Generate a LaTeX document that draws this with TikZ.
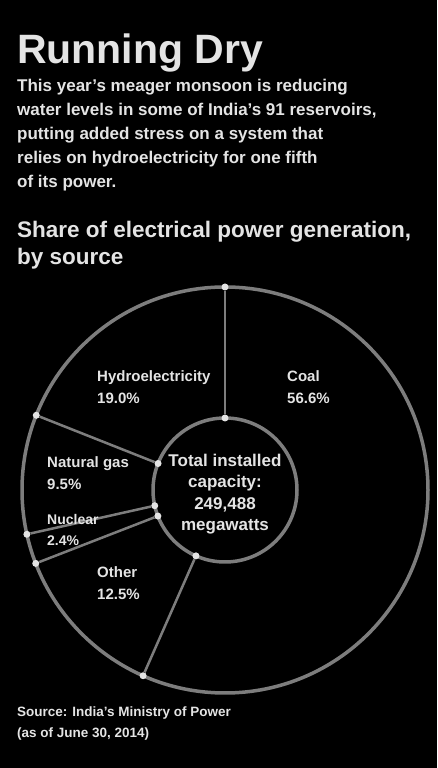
\documentclass[tikz,border=0pt]{standalone}
\usepackage{fontspec}
\setmainfont{Liberation Sans}
\usetikzlibrary{calc}

\definecolor{ringgray}{RGB}{125,125,125}
\definecolor{txtgray}{RGB}{228,228,228}

\tikzstyle{dot} = [circle, fill=txtgray, inner sep=0pt, minimum size=7pt]
\tikzstyle{line} = [draw, ringgray, line width=2.5pt]
\tikzstyle{ring} = [draw, ringgray, line width=3.5pt]
\tikzstyle{txt} = [anchor=north west, align=left, text=txtgray, inner sep=0pt, font=\fontsize{15}{22}\selectfont\bfseries]

\begin{document}
\begin{tikzpicture}[x=1pt,y=1pt]

	\fill[black] (0,0) rectangle (437,768);
	\useasboundingbox (0,0) rectangle (437,768);

	% Heading
	\node[txt, font=\bfseries\fontsize{41}{44}\selectfont] (title) at (17,734) {Running Dry};
	\node[txt, font=\bfseries\fontsize{17}{24}\selectfont] (intro) at (17,689) {This year's meager monsoon is reducing\\water levels in some of India's 91 reservoirs,\\putting added stress on a system that\\relies on hydroelectricity for one fifth\\of its power.};
	\node[txt, font=\bfseries\fontsize{22.5}{27.5}\selectfont] (subtitle) at (17,547) {Share of electrical power generation,\\by source};

	% Pie
	\coordinate (c) at (225,278);
	\draw[ring] (c) circle (203);
	\draw[ring] (c) circle (72);
	\foreach \a [count=\i] in {90,158.4,192.6,201.2,246.2} {
		\node[dot] (o\i) at ($(c)+(\a:203)$) {};
		\node[dot] (i\i) at ($(c)+(\a:72)$) {};
		\path[line] (o\i) -- (i\i);
	}

	% Slices
	\node[txt] (hydro) at (97,398) {Hydroelectricity\\19.0\%};
	\node[txt] (coal) at (287,398) {Coal\\56.6\%};
	\node[txt] (gas) at (47,312) {Natural gas\\9.5\%};
	\node[txt, font=\bfseries\fontsize{14}{21}\selectfont] (nuclear) at (47,254) {Nuclear\\2.4\%};
	\node[txt] (other) at (97,202) {Other\\12.5\%};

	% Centre
	\node[align=center, text=txtgray, inner sep=0pt, font=\bfseries\fontsize{17}{21.5}\selectfont] (total) at ($(c)+(0,-4)$) {Total installed\\capacity:\\249,488\\megawatts};

	% Source
	\node[txt, font=\bfseries\fontsize{13.5}{21}\selectfont] (source) at (17,61) {Source: India's Ministry of Power\\(as of June 30, 2014)};

\end{tikzpicture}
\end{document}
